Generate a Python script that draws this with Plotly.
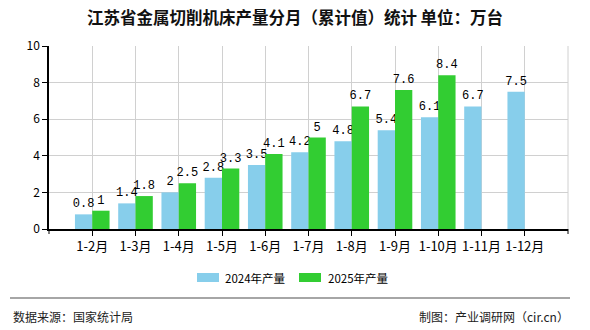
import plotly.graph_objects as go

categories = ["1-2月", "1-3月", "1-4月", "1-5月", "1-6月", "1-7月", "1-8月", "1-9月", "1-10月", "1-11月", "1-12月"]
values_2024 = [0.8, 1.4, 2, 2.8, 3.5, 4.2, 4.8, 5.4, 6.1, 6.7, 7.5]
values_2025 = [1, 1.8, 2.5, 3.3, 4.1, 5, 6.7, 7.6, 8.4, None, None]
series_names = ["2024年产量", "2025年产量"]
series_colors = ["#87CEEB", "#32CD32"]
y_ticks = [0, 2, 4, 6, 8, 10]

FONT = "Noto Sans CJK SC"
MONO = "Liberation Mono"

# plot area in pixels: x 49..568, y 46..229
PL, PR, PT, PB = 49, 568, 46, 229
def px(x):
    return (x - PL) / (PR - PL)
def py(y):
    return (PB - y) / (PB - PT)

def labels(vals):
    return ["" if v is None else f"{v:g}" for v in vals]

fig = go.Figure()
for name, vals, col in zip(series_names, [values_2024, values_2025], series_colors):
    fig.add_trace(go.Bar(
        x=categories, y=vals, name=name,
        marker=dict(color=col, line=dict(width=0)),
        text=labels(vals), textposition="outside", cliponaxis=False,
        constraintext="none",
        textfont=dict(size=12, color="#000", family=MONO),
    ))

fig.update_layout(
    width=590, height=330,
    margin=dict(l=PL, r=590 - PR, t=PT, b=330 - PB),
    paper_bgcolor="white", plot_bgcolor="white",
    barmode="group", bargap=0.2, bargroupgap=0,
    font=dict(family=FONT, size=12, color="#000"),
    title=dict(text="<b>江苏省金属切削机床产量分月（累计值）统计 单位：万台</b>",
               x=0.5, xanchor="center", y=1 - 18 / 330, yanchor="middle",
               font=dict(size=16.5, color="#111", family=FONT)),
    showlegend=False,
)

fig.update_xaxes(
    type="category", range=[-1, 11],
    showgrid=True, gridcolor="#d0d0d0", gridwidth=1,
    showline=True, linecolor="#000", linewidth=1.5,
    ticks="outside", ticklen=5, tickcolor="#000",
    tickfont=dict(size=13, color="#000", family=FONT),
)
fig.update_yaxes(
    range=[0, 10], tickvals=y_ticks,
    showgrid=True, gridcolor="#d0d0d0", gridwidth=1,
    showline=True, linecolor="#000", linewidth=1.5,
    ticks="outside", ticklen=5, tickcolor="#000",
    tickfont=dict(size=12, color="#000", family=FONT),
    zeroline=False,
)

# right border line
fig.add_shape(type="line", xref="paper", yref="paper", x0=1, x1=1, y0=0, y1=1,
              line=dict(color="#d0d0d0", width=1))
# end ticks of the x axis
for xe in (0, 1):
    fig.add_shape(type="line", xref="paper", yref="paper", x0=xe, x1=xe, y0=0, y1=py(234),
                  line=dict(color="#000", width=1))

# custom legend
leg = [(197, 219, 223), (299, 321, 326)]
for (x0, x1, xt), name, col in zip(leg, series_names, series_colors):
    fig.add_shape(type="rect", xref="paper", yref="paper",
                  x0=px(x0), x1=px(x1), y0=py(282), y1=py(273),
                  fillcolor=col, line=dict(width=0))
    fig.add_annotation(text=name, xref="paper", yref="paper",
                       x=px(xt), xanchor="left", y=py(277.5), yanchor="middle", showarrow=False,
                       font=dict(size=11.5, color="#000", family=FONT))

# footer separator
fig.add_shape(type="line", xref="paper", yref="paper", x0=px(10), x1=px(570), y0=py(298), y1=py(298),
              line=dict(color="#888", width=1.5))

fig.add_annotation(text="数据来源：国家统计局", xref="paper", yref="paper",
                   x=px(11), xanchor="left", y=py(316), yanchor="middle", showarrow=False,
                   font=dict(size=12, color="#222", family=FONT))
fig.add_annotation(text="制图：产业调研网（cir.cn）", xref="paper", yref="paper",
                   x=px(571), xanchor="right", y=py(316), yanchor="middle", showarrow=False,
                   font=dict(size=12, color="#222", family=FONT))

fig.write_html("out.html")
